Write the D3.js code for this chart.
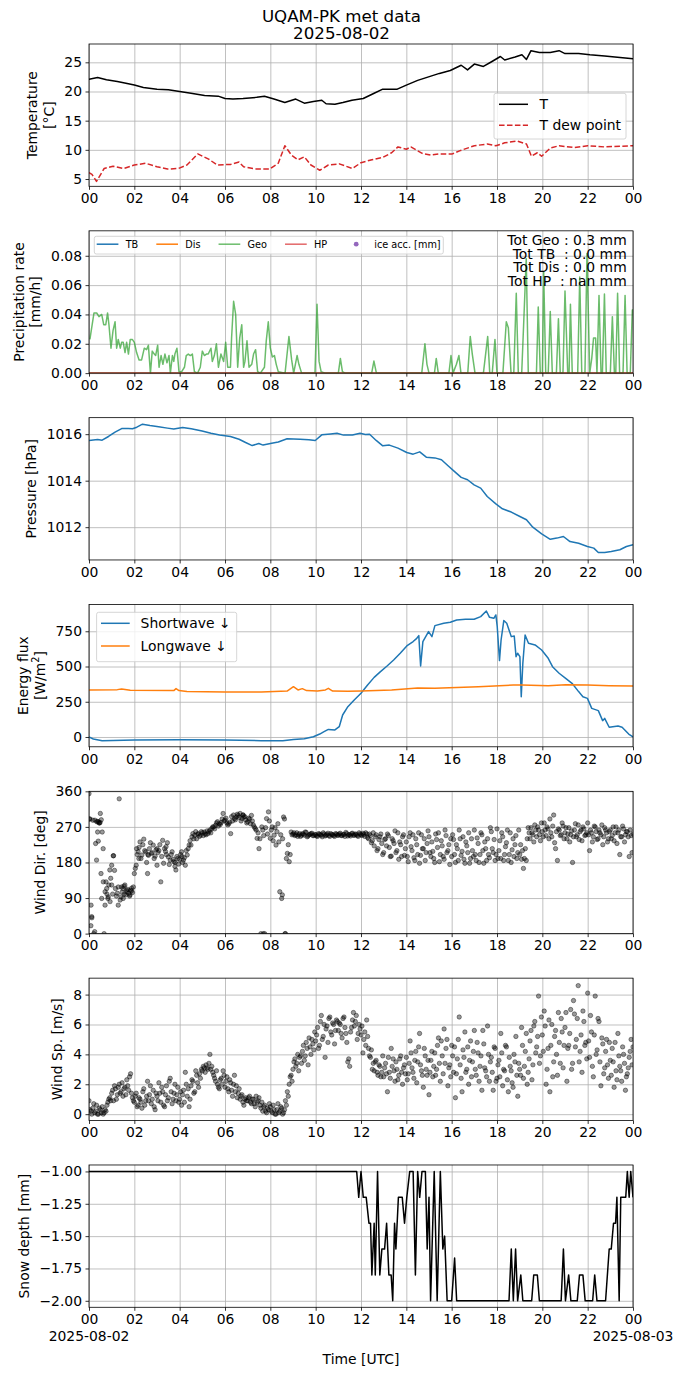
<!DOCTYPE html>
<html>
<head>
<meta charset="utf-8">
<script src="https://cdn.jsdelivr.net/npm/d3@7"></script>
<style>
  body { margin: 0; background: #fff; }
  svg { font-family: 'DejaVu Sans', sans-serif; }
</style>
</head>
<body>
<div id="chart"></div>
<script>
// ---- data (hours since 2025-08-02 00:00 UTC) ----
const hourTickValues = [0, 2, 4, 6, 8, 10, 12, 14, 16, 18, 20, 22, 24];
const hourTickLabels = ['00', '02', '04', '06', '08', '10', '12', '14', '16', '18', '20', '22', '00'];
const dateLabels = ['2025-08-02', '2025-08-03'];

const tempT = [[0,22.1],[0.38,22.4],[0.77,22.0],[1.25,21.7],[1.63,21.4],[2.0,21.1],[2.4,20.7],[3.0,20.4],
  [3.5,20.3],[4.0,20.0],[4.5,19.7],[5.1,19.3],[5.7,19.2],[6.0,18.8],[6.35,18.7],[6.8,18.8],[7.4,19.0],
  [7.74,19.2],[8.16,18.7],[8.64,18.1],[9.12,18.7],[9.5,18.0],[9.9,18.3],[10.27,18.5],[10.46,17.9],
  [10.85,17.8],[11.2,18.1],[11.6,18.5],[12.1,18.8],[12.58,19.7],[12.96,20.4],[13.35,20.4],[13.6,20.4],
  [14.0,21.1],[14.5,21.9],[14.98,22.5],[15.46,23.1],[15.94,23.6],[16.42,24.5],[16.7,23.7],[17.0,24.7],
  [17.4,24.3],[17.76,25.1],[18.15,26.0],[18.34,25.4],[18.8,25.9],[19.1,26.3],[19.3,25.5],[19.5,27.0],
  [19.87,26.7],[20.35,26.7],[20.74,27.0],[21.0,26.5],[21.6,26.5],[22.1,26.3],[22.75,26.1],[23.2,25.9],[24,25.6]];

const tempDew = [[0,6.1],[0.13,5.8],[0.33,4.6],[0.67,6.8],[1.06,7.2],[1.54,6.8],[2.0,7.4],[2.5,7.7],
  [3.0,7.1],[3.46,6.7],[3.94,6.8],[4.32,7.4],[4.8,9.3],[5.28,8.4],[5.66,7.4],[6.24,7.5],[6.62,7.9],
  [6.82,7.1],[7.39,6.7],[7.97,6.7],[8.35,7.7],[8.64,10.7],[8.93,9.1],[9.22,8.3],[9.5,8.8],[9.79,7.4],
  [10.18,6.5],[10.56,7.4],[11.04,7.6],[11.62,6.8],[12.0,7.8],[12.48,8.3],[12.96,8.7],[13.35,9.5],
  [13.63,10.5],[14.0,10.1],[14.2,10.5],[14.7,9.4],[15.07,9.1],[15.46,9.3],[16.03,9.3],[16.4,9.9],
  [17.0,10.7],[17.57,11.0],[17.95,10.7],[18.34,11.2],[18.9,11.5],[19.3,11.0],[19.52,8.9],[19.78,9.5],
  [19.97,8.9],[20.35,10.3],[20.74,10.7],[21.4,10.4],[22.0,10.7],[22.75,10.5],[24,10.7]];

const precipGeo = [[0.04,0.023],[0.22,0.041],[0.34,0.041],[0.44,0.0385],[0.56,0.040],[0.65,0.033],[0.74,0.033],
  [0.82,0.041],[0.88,0.033],[0.97,0.017],[1.06,0.029],[1.15,0.035],[1.22,0.017],[1.29,0.023],[1.38,0.017],
  [1.44,0.021],[1.51,0.021],[1.59,0.014],[1.66,0.021],[1.74,0.013],[1.82,0.023],[1.91,0.023],[2.0,0.021],
  [2.1,0.014],[2.21,0.009],[2.32,0.009],[2.44,0.017],[2.54,0.016],[2.62,0.019],[2.71,0],[2.79,0.015],
  [2.88,0.013],[2.94,0.012],[3.03,0.019],[3.09,0.004],[3.18,0.012],[3.26,0.006],[3.35,0.013],[3.44,0.007],
  [3.53,0.012],[3.59,0],[3.68,0.012],[3.74,0.008],[3.79,0.013],[3.88,0.017],[3.97,0.001],[4.09,0.001],
  [4.21,0.004],[4.29,0.012],[4.38,0.013],[4.47,0.012],[4.56,0.013],[4.65,0.001],[4.79,0],[4.91,0.004],
  [5.0,0.015],[5.09,0.012],[5.18,0.013],[5.26,0.013],[5.38,0.017],[5.44,0.008],[5.53,0.012],[5.62,0.020],
  [5.71,0.004],[5.82,0.013],[5.94,0.008],[6.03,0.021],[6.12,0.004],[6.24,0.004],[6.29,0.024],[6.38,0.049],
  [6.47,0.040],[6.56,0.004],[6.65,0.024],[6.74,0.033],[6.82,0.004],[6.88,0.008],[6.97,0.022],[7.06,0.004],
  [7.18,0.006],[7.26,0.013],[7.35,0.016],[7.44,0.001],[7.56,0],[7.74,0.004],[7.82,0.022],[7.91,0.035],
  [8.0,0.017],[8.09,0.011],[8.18,0.012],[8.26,0.006],[8.35,0.001],[8.65,0],[8.82,0.025],[8.94,0.009],
  [9.03,0],[9.18,0.012],[9.26,0.006],[9.38,0],[9.97,0],[10.06,0.047],[10.15,0.008],[10.24,0.001],[10.41,0],
  [11.0,0],[11.09,0.010],[11.18,0.001],[11.3,0],[12.47,0],[12.57,0.0082],[12.68,0],[14.68,0],[14.82,0.020],
  [14.91,0.006],[15.0,0],[15.24,0],[15.32,0.010],[15.41,0],[15.88,0],[15.97,0.012],[16.06,0],[16.21,0.006],
  [16.32,0.012],[16.41,0],[16.71,0],[16.82,0.025],[16.91,0.013],[17.03,0],[17.4,0],[17.59,0.025],[17.68,0],
  [17.79,0],[17.91,0.023],[18.0,0],[18.26,0],[18.41,0.035],[18.5,0.031],[18.62,0],[18.74,0],[18.85,0.0545],
  [18.94,0],[19.09,0],[19.29,0.078],[19.38,0],[19.74,0],[19.82,0.045],[19.91,0],[20.0,0],[20.06,0.069],
  [20.15,0],[20.26,0],[20.35,0.042],[20.44,0],[20.62,0],[20.71,0.037],[20.79,0],[20.91,0],[21.0,0.056],
  [21.12,0],[21.18,0],[21.24,0.047],[21.32,0],[21.56,0],[21.65,0.0655],[21.74,0],[21.88,0],[21.97,0.0815],
  [22.09,0],[22.18,0.010],[22.26,0.024],[22.35,0.024],[22.41,0],[22.5,0.053],[22.59,0],[22.65,0],[22.74,0.054],
  [22.82,0],[23.0,0],[23.09,0.0385],[23.18,0],[23.24,0],[23.32,0.0545],[23.41,0],[23.56,0],[23.65,0.053],
  [23.74,0],[23.88,0],[23.97,0.043],[24,0.043]];
const precipTB = [[0,0],[24,0]];
const precipDis = [[0,0],[24,0]];
const precipHP = [[0,0],[24,0]];
const precipTotals = ['Tot Geo : 0.3 mm', 'Tot TB  : 0.0 mm', 'Tot Dis : 0.0 mm', 'Tot HP  : nan mm'];

const pressure = [[0,1015.73],[0.38,1015.77],[0.58,1015.74],[0.86,1015.9],[1.15,1016.09],[1.44,1016.24],
  [1.73,1016.24],[1.92,1016.23],[2.11,1016.3],[2.36,1016.43],[2.69,1016.37],[3.07,1016.32],[3.46,1016.26],
  [3.74,1016.22],[4.13,1016.29],[4.51,1016.23],[4.99,1016.14],[5.38,1016.04],[5.76,1015.96],[6.24,1015.9],
  [6.62,1015.78],[6.91,1015.64],[7.2,1015.51],[7.49,1015.6],[7.68,1015.53],[8.06,1015.61],[8.35,1015.66],
  [8.74,1015.8],[9.31,1015.78],[9.7,1015.76],[9.98,1015.73],[10.27,1015.97],[10.66,1016.01],[10.94,1016.04],
  [11.23,1015.96],[11.62,1015.96],[11.96,1016.04],[12.19,1015.99],[12.38,1016.0],[12.67,1015.73],
  [12.96,1015.5],[13.25,1015.53],[13.63,1015.4],[14.02,1015.21],[14.3,1015.14],[14.59,1015.24],
  [14.88,1015.01],[15.26,1014.98],[15.55,1014.9],[15.84,1014.64],[16.13,1014.39],[16.42,1014.14],
  [16.7,1014.04],[16.99,1013.82],[17.28,1013.68],[17.57,1013.32],[17.95,1013.0],[18.24,1012.79],
  [18.63,1012.65],[19.01,1012.46],[19.3,1012.32],[19.58,1012.0],[19.97,1011.71],[20.35,1011.48],
  [20.64,1011.53],[20.93,1011.6],[21.22,1011.38],[21.6,1011.31],[21.99,1011.17],[22.27,1011.1],
  [22.47,1010.91],[22.75,1010.91],[23.04,1010.95],[23.42,1011.03],[23.71,1011.17],[24,1011.24]];

const shortwave = [[0,0],[0.19,-14],[0.58,-26],[1.06,-24],[2.0,-21],[4.0,-19],[6.0,-21],[7.6,-26],[8.55,-26],
  [9.02,-17],[9.5,-12],[9.9,2],[10.18,21],[10.37,38],[10.56,54],[10.85,50],[11.04,73],[11.19,156],[11.42,215],
  [11.7,263],[12.0,310],[12.29,369],[12.58,423],[12.86,464],[13.15,504],[13.44,546],[13.73,594],[14.02,646],
  [14.3,677],[14.46,700],[14.55,719],[14.63,504],[14.73,677],[14.98,748],[15.13,712],[15.26,790],[15.65,807],
  [15.94,814],[16.22,830],[16.61,835],[16.99,835],[17.28,854],[17.53,894],[17.67,849],[17.86,842],[17.95,866],
  [18.01,783],[18.11,542],[18.18,688],[18.3,826],[18.43,807],[18.63,712],[18.76,717],[18.84,570],[18.91,594],
  [19.01,570],[19.07,286],[19.14,523],[19.24,724],[19.39,665],[19.68,653],[19.97,617],[20.26,558],[20.45,499],
  [20.74,452],[21.03,416],[21.31,381],[21.6,322],[21.79,286],[21.99,274],[22.18,203],[22.47,187],[22.66,116],
  [22.75,132],[22.95,69],[23.34,78],[23.52,69],[23.81,21],[24,0]];

const longwave = [[0,334],[1.25,336],[1.44,341],[1.82,331],[3.74,329],[3.84,343],[3.97,329],[4.32,322],
  [6.0,319],[7.6,319],[8.74,326],[9.02,357],[9.22,334],[9.41,343],[9.6,329],[10.08,326],[10.43,334],
  [10.56,345],[10.75,326],[11.42,324],[12.0,326],[13.35,334],[14.5,348],[15.26,345],[17.18,357],
  [18.72,369],[19.1,369],[20.26,364],[21.03,371],[21.99,369],[22.95,364],[24,362]];

// wind samples every 5 minutes from 00:00 (A) and from 00:02:30 (B)
const windStepHours = 5 / 60;
const windDir = [
  354, 20, 287, 5, 186, 283, 304, 257, 0, 131, 89, 161,
  173, 197, 114, 102, 341, 93, 114, 123, 106, 102, 110, 104,
  152, 173, 207, 232, 199, 239, 207, 152, 215, 203, 224, 196,
  173, 210, 131, 236, 215, 200, 194, 186, 207, 182, 161, 190,
  188, 207, 186, 173, 199, 224, 224, 253, 249, 240, 253, 249,
  255, 257, 250, 253, 262, 266, 270, 274, 283, 278, 281, 304,
  287, 280, 278, 253, 285, 291, 295, 299, 304, 291, 295, 288,
  283, 290, 299, 275, 266, 241, 215, 0, 262, 0, 291, 308,
  241, 270, 249, 224, 278, 106, 89, 295, 0, 203, 182, 257,
  252, 248, 255, 250, 246, 253, 249, 256, 247, 251, 254, 248,
  250, 246, 252, 249, 255, 247, 251, 248, 253, 250, 246, 252,
  249, 254, 248, 251, 256, 247, 250, 253, 249, 252, 248, 255,
  250, 254, 246, 252, 240, 248, 235, 222, 250, 215, 245, 228,
  205, 240, 252, 218, 196, 235, 260, 210, 188, 225, 245, 198,
  232, 182, 255, 210, 192, 240, 200, 178, 250, 215, 185, 228,
  245, 195, 208, 180, 238, 255, 200, 222, 188, 248, 210, 175,
  195, 238, 180, 215, 262, 198, 245, 178, 222, 255, 190, 210,
  262, 185, 228, 200, 250, 178, 215, 240, 192, 258, 205, 185,
  265, 210, 190, 245, 200, 230, 185, 255, 212, 195, 248, 205,
  200, 188, 165, 215, 240, 255, 268, 250, 275, 245, 262, 235,
  258, 280, 248, 265, 290, 245, 300, 215, 185, 262, 250, 272,
  255, 240, 268, 250, 180, 262, 245, 275, 258, 235, 265, 250,
  280, 210, 255, 245, 270, 238, 262, 250, 225, 268, 255, 240,
  262, 248, 235, 270, 255, 200, 245, 265, 250, 258, 195, 248,
  252];
const windDirB = [
  290, 40, 0, 228, 284, 280, 288, 215, 72, 100, 123, 140,
  100, 160, 95, 118, 85, 105, 120, 98, 112, 95, 108, 118,
  165, 200, 218, 190, 225, 210, 180, 198, 230, 205, 190, 212,
  205, 225, 195, 178, 208, 230, 175, 200, 188, 170, 195, 176,
  200, 180, 192, 210, 215, 235, 245, 240, 258, 252, 246, 258,
  248, 252, 260, 258, 255, 270, 265, 280, 272, 276, 290, 285,
  292, 275, 282, 296, 300, 288, 302, 294, 285, 300, 296, 280,
  292, 278, 285, 270, 262, 255, 240, 270, 248, 268, 252, 285,
  262, 235, 268, 258, 232, 250, 240, 290, 190, 225, 200, 250,
  255, 250, 246, 253, 249, 252, 257, 245, 250, 253, 248, 251,
  247, 253, 250, 245, 252, 249, 254, 246, 251, 248, 253, 249,
  252, 248, 251, 246, 253, 250, 247, 254, 249, 251, 246, 252,
  248, 251, 255, 243, 252, 230, 255, 245, 210, 238, 252, 200,
  238, 222, 248, 195, 240, 228, 205, 255, 232, 195, 250, 215,
  195, 245, 220, 250, 185, 225, 255, 198, 215, 240, 205, 260,
  205, 232, 190, 252, 218, 182, 235, 195, 262, 205, 225, 240,
  250, 200, 225, 185, 240, 208, 188, 232, 205, 178, 240, 195,
  200, 242, 180, 255, 210, 232, 185, 200, 268, 215, 238, 200,
  190, 235, 255, 185, 220, 262, 200, 180, 240, 225, 190, 262,
  225, 210, 190, 185, 268, 240, 255, 232, 262, 270, 250, 280,
  245, 262, 270, 240, 255, 272, 230, 258, 265, 248, 280, 240,
  268, 252, 232, 260, 245, 278, 250, 238, 262, 270, 248, 255,
  250, 262, 232, 272, 258, 240, 255, 275, 245, 262, 232, 258,
  240, 270, 255, 228, 262, 245, 272, 232, 258, 245, 262, 205];
const windDirExtra = [[0.02,290],[0.09,72],[0.12,43],[0.26,287],[0.34,283],[0.38,257],[0.41,234],[0.45,280],
  [0.49,281],[0.53,152],[0.56,89],[0.63,131],[0.71,106],[0.78,114],[0.85,93],[0.93,81],[1.0,123],[1.07,197],
  [1.29,72],[1.44,118],[1.51,89],[1.56,100],[1.66,110],[1.81,98],[1.88,115],[2.1,215],[2.2,190],[2.6,200],
  [3.0,215],[3.4,220],[3.8,180],[4.1,195],[6.8,300],[8.53,98],[7.69,0],[8.65,0]];

const windSpeed = [
  0.9, 0.2, 0.4, 0.1, 0.6, 0.0, 0.3, 0.5, 0.1, 0.2, 0.8, 1.1,
  1.4, 0.9, 1.7, 1.3, 2.0, 1.5, 1.2, 1.8, 2.3, 1.6, 2.7, 1.1,
  0.8, 1.4, 0.6, 1.0, 0.4, 1.7, 0.9, 2.2, 1.3, 0.7, 1.6, 0.3,
  1.2, 2.1, 0.8, 1.5, 0.5, 1.9, 1.1, 2.4, 0.7, 1.4, 0.9, 1.8,
  1.0, 0.6, 1.6, 2.8, 1.2, 0.5, 1.9, 2.2, 1.5, 2.6, 1.8, 2.4,
  2.9, 3.1, 3.3, 3.0, 4.0, 3.2, 2.6, 2.2, 2.0, 1.7, 2.4, 2.9,
  1.8, 2.5, 1.5, 2.1, 1.2, 2.6, 1.9, 1.4, 1.0, 1.3, 0.6, 1.1,
  0.9, 1.2, 0.7, 1.0, 0.5, 0.8, 1.1, 0.4, 0.2, 0.6, 0.1, 0.3,
  0.5, 0.1, 0.3, 0.0, 0.7, 0.2, 0.4, 0.1, 0.9, 1.5, 2.0, 2.6,
  3.0, 3.7, 3.4, 2.9, 3.9, 4.2, 3.6, 4.8, 3.3, 4.5, 5.0, 4.3,
  4.9, 5.8, 4.6, 6.6, 5.2, 3.8, 5.9, 6.4, 5.5, 6.1, 4.7, 6.3,
  5.6, 6.0, 5.1, 6.5, 5.4, 3.5, 3.2, 5.8, 6.8, 6.2, 5.0, 6.0,
  5.3, 4.1, 5.5, 6.3, 4.4, 3.8, 3.0, 2.9, 3.6, 2.6, 3.2, 2.8,
  2.5, 3.4, 1.5, 2.8, 4.4, 3.7, 2.2, 3.0, 2.6, 3.9, 2.0, 3.3,
  3.8, 2.7, 4.9, 3.1, 2.4, 4.2, 3.5, 5.4, 2.9, 1.8, 3.9, 2.6,
  1.3, 3.6, 2.5, 4.1, 3.0, 5.1, 2.2, 3.9, 5.7, 4.4, 1.9, 3.3,
  4.6, 2.8, 1.1, 3.7, 6.5, 2.4, 4.3, 5.5, 3.0, 2.0, 4.9, 3.5,
  5.6, 2.6, 4.1, 3.2, 1.6, 4.7, 2.9, 5.9, 2.2, 3.8, 1.6, 4.4,
  2.4, 3.6, 5.4, 1.9, 2.9, 4.5, 1.5, 3.2, 2.1, 4.0, 5.2, 1.2,
  3.0, 5.8, 2.4, 4.2, 2.0, 3.7, 5.6, 3.3, 6.2, 4.5, 7.9, 3.9,
  5.3, 6.9, 2.0, 4.4, 1.5, 6.0, 3.5, 5.6, 2.6, 4.8, 6.4, 3.1,
  5.8, 2.2, 4.6, 7.0, 3.4, 6.7, 5.0, 8.6, 4.2, 2.8, 6.2, 4.8,
  8.1, 3.8, 5.5, 2.5, 7.9, 4.3, 6.2, 1.9, 4.7, 3.1, 5.0, 2.4,
  3.6, 4.4, 1.8, 2.9, 5.4, 3.2, 2.2, 4.0, 1.6, 2.7, 3.8, 5.0,
  4.5];
const windSpeedB = [
  0.3, 0.0, 0.7, 0.2, 0.0, 0.4, 0.1, 0.0, 0.3, 0.6, 1.0, 0.9,
  1.6, 1.9, 1.0, 1.8, 1.4, 2.1, 1.7, 1.3, 1.9, 2.5, 1.4, 0.9,
  1.2, 0.5, 1.1, 0.8, 1.5, 0.6, 1.2, 0.9, 1.9, 1.0, 0.5, 1.4,
  0.9, 1.4, 1.8, 0.6, 1.3, 0.9, 2.2, 1.5, 1.0, 2.0, 1.3, 0.8,
  1.5, 1.3, 0.8, 2.0, 1.7, 1.0, 2.3, 1.4, 2.9, 2.1, 2.7, 3.0,
  3.2, 2.8, 3.1, 3.4, 3.0, 2.8, 2.4, 2.9, 1.8, 2.3, 2.0, 2.6,
  2.2, 1.7, 2.3, 1.6, 2.0, 1.5, 1.1, 1.7, 1.2, 0.8, 1.0, 0.9,
  1.1, 0.8, 1.0, 0.7, 1.2, 0.9, 0.6, 0.8, 0.5, 0.2, 0.4, 0.7,
  0.2, 0.6, 0.0, 0.3, 0.1, 0.5, 0.0, 0.3, 0.6, 1.2, 2.5, 2.2,
  3.5, 3.2, 4.0, 3.8, 3.4, 4.6, 3.9, 4.4, 5.1, 4.0, 4.7, 5.5,
  5.3, 4.4, 6.2, 5.0, 6.0, 5.7, 4.8, 6.5, 5.3, 6.0, 5.6, 6.2,
  6.1, 5.4, 6.4, 5.8, 4.8, 3.7, 5.5, 6.3, 5.9, 6.6, 5.4, 5.7,
  5.9, 5.0, 4.6, 5.2, 3.9, 4.3, 3.4, 3.5, 2.8, 3.3, 2.5, 3.9,
  3.1, 2.7, 3.8, 2.4, 3.2, 2.9, 3.5, 2.3, 3.7, 2.8, 3.1, 2.7,
  2.3, 3.4, 4.1, 2.8, 3.6, 2.1, 4.5, 3.3, 2.6, 4.4, 3.0, 3.6,
  2.8, 4.2, 3.2, 2.6, 4.6, 3.4, 4.9, 2.7, 3.4, 5.0, 3.1, 2.5,
  3.9, 4.5, 2.7, 5.0, 3.3, 1.5, 3.8, 2.8, 4.5, 3.6, 2.5, 4.2,
  3.0, 4.8, 2.2, 3.9, 5.6, 3.1, 2.5, 4.0, 3.5, 2.8, 4.5, 2.2,
  3.3, 2.5, 4.1, 3.0, 4.6, 2.3, 3.8, 2.9, 1.8, 3.5, 2.6, 3.4,
  2.6, 4.6, 3.2, 5.4, 2.8, 4.9, 2.3, 5.9, 4.1, 5.2, 3.4, 6.5,
  4.2, 5.9, 3.0, 6.3, 4.6, 2.5, 5.2, 4.0, 6.8, 3.4, 5.5, 4.6,
  6.8, 4.4, 5.4, 3.0, 7.6, 4.5, 6.4, 3.5, 5.3, 6.9, 4.6, 3.7,
  4.9, 6.6, 3.2, 5.3, 4.0, 6.4, 3.5, 5.1, 2.7, 4.2, 3.3, 4.8,
  2.6, 3.5, 4.8, 2.3, 3.9, 2.9, 4.5, 3.4, 2.5, 3.1, 4.2, 3.3];

const snowDepth = [[0,-1.0],[11.81,-1.0],[11.9,-1.2],[12.0,-1.0],[12.1,-1.2],[12.23,-1.2],[12.35,-1.4],
  [12.42,-1.4],[12.48,-1.8],[12.58,-1.4],[12.63,-1.8],[12.73,-1.0],[12.83,-1.8],[12.92,-1.6],[13.04,-1.6],
  [13.13,-1.4],[13.23,-1.8],[13.33,-1.8],[13.4,-2.0],[13.48,-1.4],[13.54,-1.6],[13.65,-1.2],[13.82,-1.2],
  [13.92,-1.4],[14.02,-1.2],[14.15,-1.0],[14.3,-1.0],[14.4,-1.8],[14.5,-1.0],[14.59,-1.2],[14.69,-1.0],
  [14.84,-1.0],[14.92,-1.6],[15.0,-1.2],[15.07,-2.0],[15.23,-1.0],[15.36,-2.0],[15.5,-1.0],[15.61,-1.6],
  [15.69,-1.5],[15.8,-2.0],[16.0,-2.0],[16.13,-1.67],[16.22,-2.0],[18.53,-2.0],[18.63,-1.6],[18.72,-2.0],
  [18.82,-1.6],[18.91,-2.0],[19.05,-1.8],[19.14,-2.0],[19.53,-2.0],[19.62,-1.8],[19.78,-1.8],[19.87,-2.0],
  [20.83,-2.0],[20.93,-1.6],[21.02,-2.0],[21.16,-1.8],[21.26,-2.0],[21.54,-2.0],[21.64,-1.8],[21.79,-1.8],
  [21.89,-2.0],[22.22,-2.0],[22.31,-1.8],[22.41,-2.0],[22.79,-2.0],[22.95,-1.6],[23.04,-1.6],[23.14,-1.4],
  [23.23,-1.4],[23.29,-1.2],[23.39,-2.0],[23.46,-1.2],[23.68,-1.2],[23.75,-1.0],[23.83,-1.2],[23.9,-1.0],[24,-1.2]];

// ---- layout ----
const width = 683, height = 1377;
const axLeft = 89, axRight = 633;
const axTop0 = 44, axStep = 186.83, axH = 142.3;
const fontSize = 13.9;
const gridColor = '#b0b0b0';

const x = d3.scaleLinear().domain([0, 24]).range([axLeft, axRight]);

const svg = d3.select('#chart')
  .append('svg')
  .attr('width', width)
  .attr('height', height);

svg.append('rect').attr('width', width).attr('height', height).attr('fill', '#fff');

svg.append('text')
  .attr('x', width / 2)
  .attr('y', 22.3)
  .attr('text-anchor', 'middle')
  .style('font-size', '16.67px')
  .text('UQAM-PK met data');
svg.append('text')
  .attr('x', width / 2)
  .attr('y', 39)
  .attr('text-anchor', 'middle')
  .style('font-size', '16.67px')
  .text('2025-08-02');

function styleAxis(axis) {
  axis.select('.domain').remove();
  axis.selectAll('line').attr('stroke', '#000').attr('stroke-width', 0.8);
  axis.selectAll('text')
    .attr('fill', '#000')
    .style('font-size', fontSize + 'px')
    .style('font-family', "'DejaVu Sans', sans-serif");
}

function makePanel(i, cfg) {
  const top = axTop0 + i * axStep;
  const bottom = top + axH;
  const y = d3.scaleLinear().domain(cfg.domain).range([bottom, top]);
  const g = svg.append('g');

  svg.append('clipPath').attr('id', 'clip' + i)
    .append('rect')
    .attr('x', axLeft).attr('y', top)
    .attr('width', axRight - axLeft).attr('height', axH);

  // grid
  const xGrid = g.append('g')
    .attr('transform', `translate(0,${bottom})`)
    .call(d3.axisBottom(x).tickValues(hourTickValues).tickSize(-axH).tickFormat(''));
  xGrid.select('.domain').remove();
  xGrid.selectAll('line').attr('stroke', gridColor).attr('stroke-width', 0.8);

  const yGrid = g.append('g')
    .attr('transform', `translate(${axLeft},0)`)
    .call(d3.axisLeft(y).tickValues(cfg.ticks).tickSize(-(axRight - axLeft)).tickFormat(''));
  yGrid.select('.domain').remove();
  yGrid.selectAll('line').attr('stroke', gridColor).attr('stroke-width', 0.8);

  const plot = g.append('g').attr('clip-path', `url(#clip${i})`);

  // axes
  const xAxis = g.append('g')
    .attr('transform', `translate(0,${bottom})`)
    .call(d3.axisBottom(x)
      .tickValues(hourTickValues)
      .tickFormat((d, k) => hourTickLabels[k])
      .tickSize(3.5)
      .tickPadding(3.5));
  styleAxis(xAxis);

  const yAxis = g.append('g')
    .attr('transform', `translate(${axLeft},0)`)
    .call(d3.axisLeft(y)
      .tickValues(cfg.ticks)
      .tickFormat(cfg.format)
      .tickSize(3.5)
      .tickPadding(3.5));
  styleAxis(yAxis);

  // y label placed left of the widest tick label
  let maxW = 0;
  yAxis.selectAll('text').each(function() {
    maxW = Math.max(maxW, this.getComputedTextLength());
  });
  const baseX = axLeft - 7 - maxW - 10.8;
  const midY = (top + bottom) / 2;
  const n = cfg.label.length;
  cfg.label.forEach((line, k) => {
    const t = g.append('text')
      .attr('transform', `translate(${baseX - (n - 1 - k) * 16.7},${midY}) rotate(-90)`)
      .attr('text-anchor', 'middle')
      .style('font-size', fontSize + 'px');
    if (typeof line === 'string') {
      t.text(line);
    } else {
      line(t);
    }
  });

  const frame = () => g.append('rect')
    .attr('x', axLeft).attr('y', top)
    .attr('width', axRight - axLeft).attr('height', axH)
    .attr('fill', 'none').attr('stroke', '#000').attr('stroke-width', 0.8);

  return { g, plot, y, top, bottom, frame };
}

function drawLine(p, data, color, opts = {}) {
  const line = d3.line().x(d => x(d[0])).y(d => p.y(d[1]));
  p.plot.append('path')
    .datum(data)
    .attr('fill', 'none')
    .attr('stroke', color)
    .attr('stroke-width', opts.width || 1.5)
    .attr('stroke-opacity', opts.opacity || 1)
    .attr('stroke-dasharray', opts.dash || null)
    .attr('stroke-linejoin', 'round')
    .attr('d', line);
}

function drawDots(p, points) {
  p.plot.append('g').selectAll('circle').data(points).enter().append('circle')
    .attr('cx', d => x(d[0])).attr('cy', d => p.y(d[1])).attr('r', 2.2)
    .attr('fill', '#000').attr('fill-opacity', 0.4)
    .attr('stroke', '#000').attr('stroke-opacity', 0.4).attr('stroke-width', 1);
}

function legendBox(g, x0, y0, x1, y1) {
  g.append('rect')
    .attr('x', x0).attr('y', y0)
    .attr('width', x1 - x0).attr('height', y1 - y0)
    .attr('rx', 2)
    .attr('fill', '#fff').attr('fill-opacity', 0.8)
    .attr('stroke', '#cccccc').attr('stroke-width', 0.8);
}

// ---- panel 1: temperature ----
const p1 = makePanel(0, {
  domain: [3.75, 28.14], ticks: [5, 10, 15, 20, 25], format: d3.format('d'),
  label: ['Temperature', '[°C]']
});
drawLine(p1, tempT, '#000');
drawLine(p1, tempDew, '#d62728', { dash: '5.55,2.4' });
legendBox(p1.g, 494, 93.3, 626, 139);
[['T', '#000', null, 104.3], ['T dew point', '#d62728', '5.55,2.4', 125.3]].forEach(([name, c, dash, ly]) => {
  p1.g.append('line').attr('x1', 499).attr('x2', 528).attr('y1', ly).attr('y2', ly)
    .attr('stroke', c).attr('stroke-width', 1.5).attr('stroke-dasharray', dash);
  p1.g.append('text').attr('x', 539.6).attr('y', ly + 5).style('font-size', fontSize + 'px').text(name);
});
p1.frame();

// ---- panel 2: precipitation ----
const p2 = makePanel(1, {
  domain: [0, 0.097], ticks: [0, 0.02, 0.04, 0.06, 0.08], format: d3.format('.2f'),
  label: ['Precipitation rate', '[mm/h]']
});
drawLine(p2, precipTB, '#1f77b4');
drawLine(p2, precipDis, '#ff7f0e');
drawLine(p2, precipGeo, '#2ca02c', { opacity: 0.7 });
drawLine(p2, precipHP, '#d62728', { opacity: 0.7 });

const precipLegend = [
  { name: 'TB', color: '#1f77b4', op: 1, type: 'line' },
  { name: 'Dis', color: '#ff7f0e', op: 1, type: 'line' },
  { name: 'Geo', color: '#2ca02c', op: 0.7, type: 'line' },
  { name: 'HP', color: '#d62728', op: 0.7, type: 'line' },
  { name: 'ice acc. [mm]', color: '#9467bd', op: 1, type: 'dot' }
];
legendBox(p2.g, 94.3, 236.3, 443.3, 254);
let lx = 96.7;
const legY = 244.2;
precipLegend.forEach(item => {
  if (item.type === 'line') {
    p2.g.append('line').attr('x1', lx).attr('x2', lx + 21.7).attr('y1', legY).attr('y2', legY)
      .attr('stroke', item.color).attr('stroke-opacity', item.op).attr('stroke-width', 1.5);
  } else {
    p2.g.append('circle').attr('cx', lx + 11).attr('cy', legY).attr('r', 2.4).attr('fill', item.color);
  }
  const t = p2.g.append('text').attr('x', lx + 29).attr('y', legY + 3.4)
    .style('font-size', '9.72px').text(item.name);
  lx += 29 + t.node().getComputedTextLength() + 18;
});
precipTotals.forEach((s, k) => {
  p2.g.append('text')
    .attr('x', 626.7).attr('y', 244.8 + k * 13.7)
    .attr('text-anchor', 'end')
    .attr('xml:space', 'preserve')
    .style('white-space', 'pre')
    .style('font-size', fontSize + 'px')
    .text(s);
});
p2.frame();

// ---- panel 3: pressure ----
const p3 = makePanel(2, {
  domain: [1010.59, 1016.71], ticks: [1012, 1014, 1016], format: d3.format('d'),
  label: ['Pressure [hPa]']
});
drawLine(p3, pressure, '#1f77b4');
p3.frame();

// ---- panel 4: radiation ----
const p4 = makePanel(3, {
  domain: [-69.5, 940], ticks: [0, 250, 500, 750], format: d3.format('d'),
  label: ['Energy flux', t => {
    t.append('tspan').text('[W/m');
    t.append('tspan').attr('dy', -5.5).style('font-size', '9.7px').text('2');
    t.append('tspan').attr('dy', 5.5).text(']');
  }]
});
drawLine(p4, shortwave, '#1f77b4');
drawLine(p4, longwave, '#ff7f0e');
legendBox(p4.g, 96.6, 612.3, 236.7, 661.7);
[['Shortwave ↓', '#1f77b4', 623.3], ['Longwave ↓', '#ff7f0e', 646]].forEach(([name, c, ly]) => {
  p4.g.append('line').attr('x1', 101).attr('x2', 129.7).attr('y1', ly).attr('y2', ly)
    .attr('stroke', c).attr('stroke-width', 1.5);
  p4.g.append('text').attr('x', 140.6).attr('y', ly + 5).style('font-size', fontSize + 'px').text(name);
});
p4.frame();

// ---- panel 5: wind direction ----
const p5 = makePanel(4, {
  domain: [0, 360], ticks: [0, 90, 180, 270, 360], format: d3.format('d'),
  label: ['Wind Dir. [deg]']
});
const dirPoints = windDir.map((v, k) => [k * windStepHours, v])
  .concat(windDirB.map((v, k) => [(k + 0.5) * windStepHours, v]))
  .concat(windDirExtra);
drawDots(p5, dirPoints);
p5.frame();

// ---- panel 6: wind speed ----
const p6 = makePanel(5, {
  domain: [-0.42, 9.1], ticks: [0, 2, 4, 6, 8], format: d3.format('d'),
  label: ['Wind Sp. [m/s]']
});
const spdPoints = windSpeed.map((v, k) => [k * windStepHours, v])
  .concat(windSpeedB.map((v, k) => [(k + 0.5) * windStepHours, v]));
drawDots(p6, spdPoints);
p6.frame();

// ---- panel 7: snow depth ----
const minusFmt = d => d3.format('.2f')(d).replace('-', '\u2212');
const p7 = makePanel(6, {
  domain: [-2.05, -0.95], ticks: [-2, -1.75, -1.5, -1.25, -1], format: minusFmt,
  label: ['Snow depth [mm]']
});
drawLine(p7, snowDepth, '#000');
p7.frame();

// date row and axis title under the last panel
[[0, dateLabels[0]], [24, dateLabels[1]]].forEach(([h, s]) => {
  p7.g.append('text')
    .attr('x', x(h)).attr('y', p7.bottom + 7 + 0.71 * fontSize + 16.7)
    .attr('text-anchor', 'middle')
    .style('font-size', fontSize + 'px')
    .text(s);
});
p7.g.append('text')
  .attr('x', (axLeft + axRight) / 2).attr('y', 1364)
  .attr('text-anchor', 'middle')
  .style('font-size', fontSize + 'px')
  .text('Time [UTC]');
</script>
</body>
</html>
